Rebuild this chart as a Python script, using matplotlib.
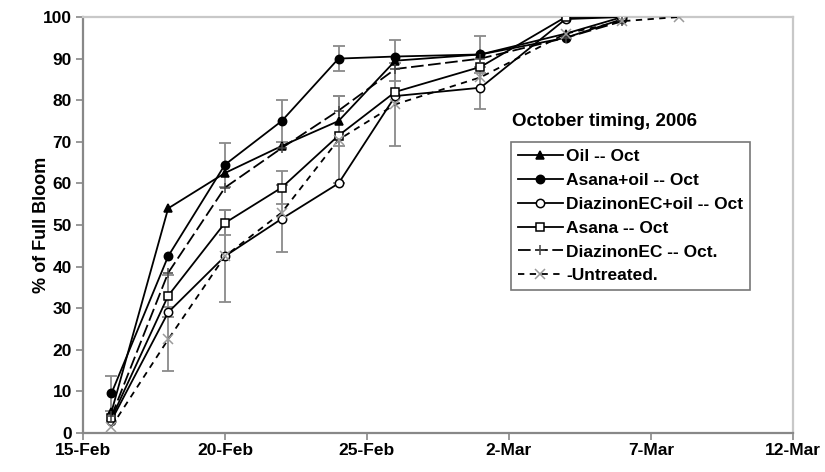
import numpy as np
import matplotlib
matplotlib.use("Agg")
import matplotlib.pyplot as plt

plt.rcParams['font.family'] = ['Liberation Sans', 'DejaVu Sans']
plt.rcParams['font.weight'] = 'bold'

dates = ['2006-02-16', '2006-02-18', '2006-02-20', '2006-02-22', '2006-02-24',
         '2006-02-26', '2006-03-01', '2006-03-04', '2006-03-06']
dates_untreated = dates + ['2006-03-08']

oil = [5, 54, 62.5, 69, 75, 89.5, 91, 96, 100]
asana_oil = [9.5, 42.5, 64.5, 75, 90, 90.5, 91, 95, 99.5]
diaz_oil = [3, 29, 42.5, 51.5, 60, 81, 83, 99.5, 100]
asana = [3.5, 33, 50.5, 59, 71.5, 82, 88, 100, 100]
diaz = [4, 38.5, 59, 68.5, 77.5, 87.5, 90, 95, 99]
untreated = [1.5, 22.5, 42.5, 53, 70.5, 79, 85.5, 96, 99, 100]

err_oil = [0, 0, 0, 0, 6, 5, 0, 0, 0]
err_asana_oil = [4.3, 0, 5.3, 5, 3, 0, 4.4, 0, 0]
err_diaz_oil = [0, 0, 0, 8, 0, 0, 5, 0, 0]
err_asana = [0, 5, 3, 4, 0, 0, 0, 0, 0]
err_diaz = [0, 0, 0, 0, 0, 0, 0, 0, 0]
err_untreated = [0, 7.7, 11, 0, 10.5, 10, 0, 0, 0, 0]

series_labels = ['Oil -- Oct', 'Asana+oil -- Oct', 'DiazinonEC+oil -- Oct',
                 'Asana -- Oct', 'DiazinonEC -- Oct.', '-Untreated.']
legend_title = 'October timing, 2006'
x_ticks = ['2006-02-15', '2006-02-20', '2006-02-25', '2006-03-02', '2006-03-07', '2006-03-12']
x_tick_labels = ['15-Feb', '20-Feb', '25-Feb', '2-Mar', '7-Mar', '12-Mar']
y_label = '% of Full Bloom'

fig = plt.figure(figsize=(8.25, 4.72), dpi=100)
ax = fig.add_axes([0.1006, 0.0826, 0.8604, 0.8814])

d = np.array(dates, dtype='datetime64[D]')
du = np.array(dates_untreated, dtype='datetime64[D]')

ecol = '#8a8a8a'
specs = [
    (d, oil, err_oil, dict(marker='^', mfc='black', mec='black', ls='-', color='black')),
    (d, asana_oil, err_asana_oil, dict(marker='o', mfc='black', mec='black', ls='-', color='black')),
    (d, diaz_oil, err_diaz_oil, dict(marker='o', mfc='white', mec='black', ls='-', color='black')),
    (d, asana, err_asana, dict(marker='s', mfc='white', mec='black', ls='-', color='black')),
    (d, diaz, err_diaz, dict(marker='+', mfc='black', mec='#444444', ls=(0, (7, 2.5)), color='black')),
    (du, untreated, err_untreated, dict(marker='x', mfc='white', mec='#9a9a9a', ls=(0, (3.5, 3)), color='black')),
]

handles = []
for (x, y, e, st), lab in zip(specs, series_labels):
    e = np.array(e, dtype=float)
    y = np.array(y, dtype=float)
    mask = e > 0
    if mask.any():
        ax.errorbar(x[mask], y[mask], yerr=e[mask], fmt='none', ecolor=ecol,
                    elinewidth=1.3, capsize=4, capthick=1.3, zorder=2)
    ms = 7.5 if st['marker'] in ('+', 'x') else 6
    h, = ax.plot(x, y, lw=1.3, ms=ms, mew=1.1, label=lab, zorder=3, **st)
    handles.append(h)

xt = np.array(x_ticks, dtype='datetime64[D]')
ax.set_xlim(xt[0], xt[-1])
ax.set_xticks(xt)
ax.set_xticklabels(x_tick_labels, fontsize=12.5, fontweight='bold')
ax.set_ylim(0, 100)
ax.set_yticks(np.arange(0, 101, 10))
ax.tick_params(axis='y', labelsize=12.5, direction='out', length=5, color='#888888', width=1.2, pad=3)
ax.tick_params(axis='x', direction='out', length=5, color='#888888', width=1.2, pad=2)
for lbl in ax.get_yticklabels():
    lbl.set_fontweight('bold')
ax.set_ylabel(y_label, fontsize=13, fontweight='bold')
ax.yaxis.set_label_coords(-0.047, 0.5)

ax.spines['left'].set_color('#888888')
ax.spines['bottom'].set_color('#888888')
ax.spines['left'].set_linewidth(1.6)
ax.spines['bottom'].set_linewidth(1.6)
ax.spines['top'].set_color('#c8c8c8')
ax.spines['right'].set_color('#c8c8c8')
ax.spines['top'].set_linewidth(1.6)
ax.spines['right'].set_linewidth(1.6)

fig.text(0.621, 0.742, legend_title, fontsize=13.5, fontweight='bold', ha='left', va='center')

leg = ax.legend(handles=handles, loc='upper left', bbox_to_anchor=(0.619, 0.699),
                bbox_transform=fig.transFigure, frameon=True, fancybox=False,
                fontsize=12.5, handlelength=2.6, handletextpad=0.2, borderpad=0.4,
                labelspacing=0.5, borderaxespad=0)
leg.get_frame().set_edgecolor('#555555')
leg.get_frame().set_linewidth(1.2)
for t in leg.get_texts():
    t.set_fontweight('bold')

fig.savefig('out.png', dpi=100)
